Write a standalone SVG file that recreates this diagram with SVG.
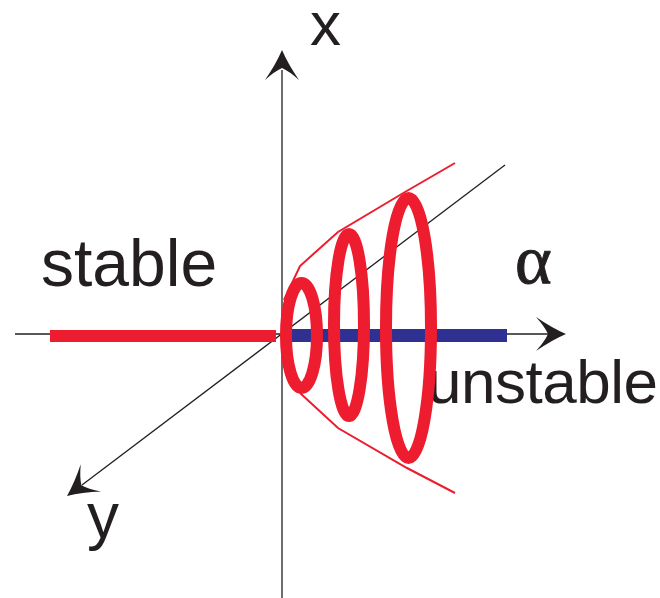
<svg xmlns="http://www.w3.org/2000/svg" width="660" height="598" viewBox="0 0 660 598">
<style>
.axis{stroke:#231f20;stroke-width:1.3;fill:none}
.head{fill:#231f20}
.lbl{font-family:"Liberation Sans",Arial,sans-serif;fill:#231f20}
.ring{fill:none;stroke:#ed1c2e;stroke-width:12}
.env{fill:none;stroke:#ed1c2e;stroke-width:2}
</style>
<defs>
<path id="ah" d="M0,0 Q-14,-6 -30,-17 Q-21,-7 -18,0 Q-21,7 -30,17 Q-14,6 0,0 Z"/>
</defs>
<rect width="660" height="598" fill="#fff"/>
<g id="connectors">
<line class="axis" x1="282" y1="598" x2="282" y2="70"/>
<use href="#ah" class="head" transform="translate(282,50) rotate(-90)"/>
<line class="axis" x1="15" y1="334" x2="550" y2="334"/>
<use href="#ah" class="head" transform="translate(566,334)"/>
<line class="axis" x1="505" y1="165" x2="82" y2="485"/>
<use href="#ah" class="head" transform="translate(67,496) rotate(143)"/>
</g>
<g id="stable-branch">
<line x1="50" y1="336" x2="276" y2="336" stroke="#ed1c2e" stroke-width="12"/>
</g>
<g id="unstable-branch">
<line x1="284" y1="335.5" x2="507" y2="335.5" stroke="#2e3192" stroke-width="13"/>
</g>
<g id="labels">
<text class="lbl" x="310" y="45" font-size="62">x</text>
<text class="lbl" x="87" y="538" font-size="64">y</text>
<text class="lbl" x="41" y="286" font-size="66">stable</text>
<text class="lbl" x="427" y="403" font-size="62" textLength="231" lengthAdjust="spacing">unstable</text>
<text x="515" y="283" font-size="70" stroke="#231f20" stroke-width="1" font-family="'Liberation Serif','Times New Roman',serif" fill="#231f20">α</text>
</g>
<g id="envelope">
<path class="env" d="M284,300 L300,266 L338,232 L405,192 L455,163"/>
<path class="env" d="M300,393 L338,428 L407,468 L455,493"/>
</g>
<g id="cycles">
<ellipse class="ring" cx="301.5" cy="335.5" rx="15.5" ry="52.5"/>
<ellipse class="ring" cx="349" cy="325" rx="15" ry="91"/>
<ellipse class="ring" cx="408.5" cy="328" rx="22.5" ry="130"/>
</g>
</svg>
